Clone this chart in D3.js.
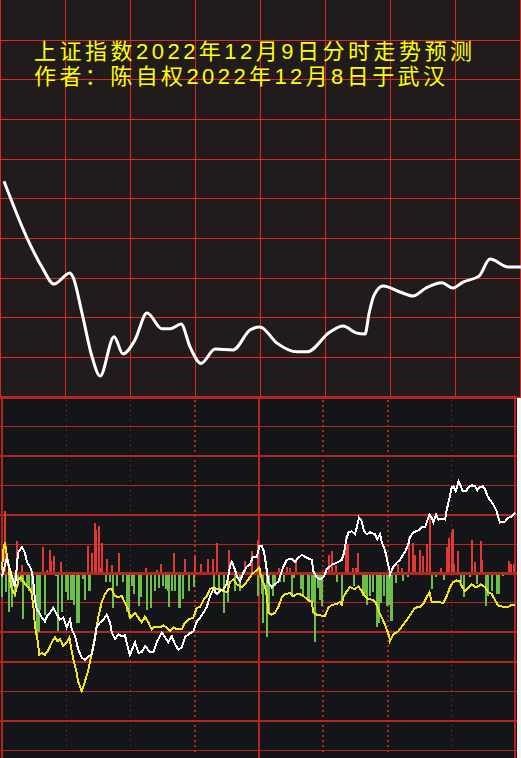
<!DOCTYPE html>
<html>
<head>
<meta charset="utf-8">
<script src="https://cdn.jsdelivr.net/npm/d3@7"></script>
<style>
  body { margin: 0; background: #141518; }
  svg { display: block; }
</style>
</head>
<body>
<div class="container"></div>
<script>
//Width and height
var w = 521;
var h = 758;

var titleLines = ["上证指数2022年12月9日分时走势预测", "作者：陈自权2022年12月8日于武汉"];

// top panel: predicted index curve (minute, level in grid units)
var topMinutes = [0, 10.7, 17.6, 23.2, 30.6, 32, 36.2, 40.9, 44.6, 51.1, 55.2, 60.8, 66.4, 73.4, 77.1, 82.2, 86.4, 91.5, 98, 106.3,
    114.2, 118.8, 126.7, 136, 140.7, 151.3, 157.4, 163.4, 167.6, 169.5, 171.8, 176, 183.8, 189.9, 195.9, 203.3, 208.4, 213.1, 220.5, 225.6, 234, 240];
var topValues = [5.43, 4.00, 3.27, 2.84, 3.12, 3.02, 2.11, 1.00, 0.52, 1.51, 1.08, 1.43, 2.11, 1.71, 1.71, 1.83, 1.25, 0.84, 1.20, 1.18,
    1.68, 1.76, 1.35, 1.13, 1.13, 1.63, 1.78, 1.61, 1.58, 2.11, 2.56, 2.79, 2.64, 2.54, 2.74, 2.87, 2.74, 2.89, 3.04, 3.47, 3.27, 3.27];

// bottom panel: flow bars [t, value]
var redBars = [[1.4,64],[7.7,33],[9.9,9],[20.7,27],[22.4,4],[24,24],[24.5,13],[26.2,18],[29.5,12],[43.2,28],[45,21],[46.5,51],[47.2,44],
    [48.7,48],[49.4,6],[50.2,31],[52.7,15],[54.9,9],[58.7,21],[71.9,6],[77.4,4],[79.7,10],[85.9,21],[91.5,15],[96.7,19],[99.5,10],
    [102.9,15],[105.4,15],[107.7,31],[113.7,24],[121.5,13],[125,23],[127.9,34],[138.5,6],[142.4,7],[144.2,6],[147,15],[162,6],
    [163.5,19],[164.9,23],[166.9,9],[169,2],[171.8,38],[173.2,30],[175.4,6],[177,6],[178.2,21],[198.2,10],[199.9,6],[203.7,37],
    [205.4,31],[206.5,19],[209,24],[210.7,18],[212.4,30],[213.9,58],[219.4,6],[222.4,27],[223.4,36],[224.9,42],[225.5,45],[226.2,10],
    [228.2,23],[234.9,34],[236.5,12],[239.4,33],[240.2,14],[253.4,13],[254.4,10],[255.9,10]];
var greenBars = [[0,-24],[2.2,-19],[3.7,-39],[5.2,-34],[6.5,-24],[8.2,-13],[9.4,-9],[10.7,-46],[12.4,-13],[13.4,-18],[14.9,-24],
    [15.7,-16],[17.4,-67],[18.4,-60],[19,-37],[21.5,-42],[27,-3],[27.9,-59],[30.2,-39],[31.9,-19],[33.2,-27],[34.7,-27],[35.7,-27],
    [36,-32],[37.7,-50],[38.7,-50],[40.7,-6],[41.7,-27],[43.7,-18],[44.2,-18],[52,-9],[54,-9],[55.7,-35],[57.4,-13],[60.4,-9],
    [62.7,-39],[63.7,-44],[64.9,-13],[66.2,-21],[68.5,-33],[69.5,-24],[72.7,-37],[74.7,-35],[76.7,-18],[78.4,-15],[80.4,-13],
    [82,-16],[82.9,-18],[83.7,-34],[85,-18],[86.5,-18],[88.7,-35],[89.2,-35],[90.7,-26],[93.5,-18],[96,-14],[106.2,-14],[108.7,-19],
    [111.2,-40],[113,-29],[116.5,-18],[119,-18],[128.2,-23],[129.9,-21],[130.7,-50],[132.3,-65],[133.3,-40],[135.4,-23],[136.5,-13],
    [139,-9],[141.2,-9],[144.9,-24],[146.2,-5],[149.4,-16],[150.7,-23],[152.9,-27],[153.7,-29],[154.9,-29],[155.7,-29],[156.5,-70],
    [158.2,-15],[159,-27],[160.2,-33],[167.4,-9],[169.9,-31],[176,-13],[180.4,-23],[181.5,-21],[182.7,-32],[184,-23],[185.7,-19],
    [187.4,-55],[188.4,-50],[189.7,-30],[191,-23],[192.7,-33],[193.4,-32],[194.4,-48],[194.9,-48],[197,-10],[200.7,-8],[202.9,-4],
    [215.2,-16],[217,-4],[221,-7],[229.4,-9],[231,-24],[233.9,-4],[237.4,-11],[242,-33],[243,-23],[245,-18],[247.7,-21],[248.5,-21],
    [250.4,-3]];

// bottom panel: white and yellow lines [t, value]
var whiteLine = [[0,-3],[2.4,16],[4,4],[6.5,-14],[8,21],[9.9,27],[11.5,21],[12.4,12],[14,7],[14.9,2],[15.7,-9],[16.5,-27],[17.4,-37],
    [18.7,-40],[19.9,-45],[21.5,-49],[22.4,-44],[24,-40],[25.7,-35],[27.4,-42],[29,-47],[30.7,-45],[32.4,-55],[34,-47],[34.9,-57],
    [36.5,-64],[38.2,-78],[39.9,-86],[41.5,-88],[43.2,-85],[44.9,-82],[46.2,-70],[47.4,-54],[49,-50],[50.7,-47],[52.4,-42],[54,-50],
    [54.9,-60],[56.5,-67],[58.2,-62],[59.9,-64],[61.5,-63],[63.2,-78],[64,-83],[66.5,-70],[68.2,-81],[69.9,-80],[71.5,-74],[74,-80],
    [75.7,-80],[77.4,-70],[79.9,-60],[81.5,-65],[83.2,-70],[84.9,-64],[86.5,-72],[88.2,-78],[89.9,-75],[91.5,-65],[93.2,-62],
    [95.7,-59],[97.4,-49],[99,-45],[100.7,-40],[102.4,-34],[104,-23],[105.7,-16],[107.4,-21],[109,-18],[110.7,-16],[112.4,-11],
    [114,7],[114.9,12],[116.5,4],[117.4,-3],[119,-8],[120.7,1],[122.4,7],[124,9],[125.4,17],[127.4,17],[128.7,28],[129.9,28],[131,22],
    [132,9],[133.2,-9],[134.9,-14],[136.5,-11],[138.2,-8],[140.7,7],[142.4,14],[144.9,15],[146.5,12],[148.2,16],[149.9,19],[152.4,16],
    [154.9,14],[155.7,2],[157.4,-4],[159,-6],[160.7,-4],[162.4,4],[164.9,9],[167.4,11],[169.9,14],[171,21],[172,33],[173.2,42],
    [174.9,43],[176.5,40],[177.4,47],[178.5,57],[179.9,53],[181,43],[182.4,40],[184,42],[186.5,40],[187.7,35],[189,40],[189.9,32],
    [191.5,24],[192.7,12],[193.7,4],[194,-1],[195.4,6],[197.4,11],[199,14],[199.9,17],[201.5,22],[203.2,30],[204,37],[205.7,42],
    [208.2,44],[209.9,47],[211.5,47],[212.4,52],[213.7,60],[214.9,57],[215.7,52],[217,60],[218.2,55],[219.9,56],[221.5,55],[222.4,65],
    [223.5,75],[224.9,88],[225.7,89],[226.9,84],[228.2,94],[229,91],[230.4,84],[232,84],[233.2,88],[234.9,90],[236.5,89],[237.7,85],
    [239,88],[240.4,89],[241.5,86],[242.7,79],[244,75],[245.7,70],[247.4,63],[248.2,57],[249,52],[251.5,53],[253.2,57],[254.9,58],
    [256.5,62]];
var yellowLine = [[0,4],[0.7,24],[1.5,32],[2.4,19],[3.2,9],[4,-6],[4.9,-16],[5.7,-19],[6.5,-21],[7.4,-14],[8.2,-6],[9.4,-4],[10.7,-8],
    [12.4,-13],[14,-16],[14.9,-21],[15.7,-34],[16.5,-54],[17.7,-67],[18.7,-83],[19.9,-81],[21.5,-83],[23.2,-78],[24.9,-70],[26.5,-65],
    [27.7,-69],[29,-67],[30.7,-74],[32.4,-70],[33.7,-65],[34.4,-74],[35.7,-88],[37,-98],[38.2,-111],[39.9,-120],[41.5,-110],[43.2,-98],
    [44.9,-81],[46.5,-64],[48.2,-44],[49.9,-29],[51.5,-21],[53.2,-16],[54.9,-16],[56.5,-23],[58.2,-24],[59.9,-23],[62.4,-34],[63.7,-40],
    [64,-45],[66.5,-40],[68.2,-45],[69.9,-50],[71.5,-44],[73.2,-50],[74.9,-57],[76.5,-54],[79,-55],[80.7,-53],[82.4,-55],[84,-59],
    [85.7,-55],[87.4,-57],[89.9,-57],[91.5,-50],[93.2,-47],[95.7,-45],[97.4,-35],[99,-34],[100.7,-27],[102.4,-23],[104,-16],[105.7,-14],
    [107.4,-16],[109,-16],[110.7,-18],[112.7,-19],[114,-9],[115.7,-6],[117.4,-11],[119.9,-14],[121.5,-11],[123.2,-6],[124.9,-1],
    [126.5,2],[128.7,6],[129,1],[129.9,-6],[131.5,-13],[132.4,-23],[133.2,-40],[134.9,-42],[136.5,-40],[138.2,-34],[139.9,-24],
    [141.5,-21],[144,-20],[145.7,-23],[147.4,-21],[149,-21],[150.7,-23],[152.4,-26],[154.9,-29],[155.7,-40],[157.4,-42],[159.9,-43],
    [161.5,-43],[163.2,-35],[164.9,-32],[167.4,-31],[169,-29],[169.9,-32],[170.7,-24],[172.4,-18],[174,-14],[176.5,-16],[178.2,-13],
    [179.9,-18],[181.5,-23],[183.2,-26],[185.7,-27],[187,-30],[188.7,-40],[189.9,-45],[191.5,-52],[192.7,-59],[193.7,-65],[194,-69],
    [195.7,-62],[198.2,-59],[199.9,-54],[201.5,-50],[203.2,-45],[204.9,-40],[206.5,-35],[209,-34],[210.7,-31],[212.4,-24],[213.7,-19],
    [214.9,-29],[217.4,-29],[220.7,-30],[222.4,-23],[224,-14],[225.4,-9],[227.4,-7],[229,-8],[229.9,-13],[231.5,-18],[233.2,-14],
    [234.9,-11],[236.5,-14],[238.2,-13],[239.4,-11],[241.5,-14],[243.2,-19],[244.9,-21],[246.5,-27],[248.2,-33],[250.7,-34],
    [253.2,-34],[254.9,-32],[256.5,-32]];

var topX = d3.scaleLinear().domain([0, 240]).range([4, 521]);
var topY = d3.scaleLinear().domain([0, 10]).range([396.7, 0]);
var botX = d3.scaleLinear().domain([0, 257]).range([2, 516]);
var botY = d3.scaleLinear().domain([-180, 180]).range([750, 397]);

//Create SVG element
var svg = d3.select(".container")
    .append("svg")
    .attr("width", w)
    .attr("height", h);

// backgrounds
svg.append("rect").attr("width", w).attr("height", 397).attr("fill", "#211c1b");
svg.append("rect").attr("y", 397).attr("width", w).attr("height", h - 397).attr("fill", "#141518");
svg.append("rect").attr("x", 517).attr("y", 398).attr("width", 4).attr("height", h - 398).attr("fill", "#f4f4f4");

// top grid (1px rects so they stay solid red)
var topGrid = svg.append("g").attr("shape-rendering", "crispEdges").attr("fill", "#d82a22");
topGrid.selectAll(".vline")
    .data(d3.range(0, 9))
    .enter().append("rect")
    .attr("class", "vline")
    .attr("x", function(i) { return Math.min(i * 65, 520); })
    .attr("width", 1)
    .attr("y", 0).attr("height", 397);
topGrid.selectAll(".hline")
    .data(d3.range(0, 10))
    .enter().append("rect")
    .attr("class", "hline")
    .attr("x", 0).attr("width", w)
    .attr("y", function(k) { return Math.round(topY(k)); })
    .attr("height", 1);

// title, one text block with a line per tspan
svg.append("text")
    .attr("class", "title")
    .attr("fill", "#ffff00")
    .attr("font-family", "'Liberation Sans', 'Noto Sans CJK SC', sans-serif")
    .attr("font-size", "22px")
  .selectAll("tspan")
    .data(titleLines)
    .enter().append("tspan")
    .attr("x", 34)
    .attr("y", function(d, i) { return 59 + i * 25; })
    .attr("textLength", function(d, i) { return i == 0 ? 438 : 411; })
    .attr("lengthAdjust", "spacing")
    .text(function(d) { return d; });

// top curve
var topLine = d3.line()
    .x(function(d) { return topX(d[0]); })
    .y(function(d) { return topY(d[1]); })
    .curve(d3.curveMonotoneX);
svg.append("path")
    .datum(d3.zip(topMinutes, topValues))
    .attr("fill", "none")
    .attr("stroke", "#ffffff")
    .attr("stroke-width", 3)
    .attr("stroke-linejoin", "round")
    .attr("d", topLine);

// bottom grid
var botGrid = svg.append("g").attr("shape-rendering", "crispEdges");
var hWidths = [3, 1.5, 2, 1, 2, 1, 3, 1, 2, 2, 1, 2, 1];
botGrid.selectAll(".bh")
    .data(d3.range(180, -181, -30))
    .enter().append("line")
    .attr("class", "bh")
    .attr("x1", 0).attr("x2", 517)
    .attr("y1", function(v) { return botY(v); })
    .attr("y2", function(v) { return botY(v); })
    .attr("stroke", "#b3271f")
    .attr("stroke-width", function(v, i) { return hWidths[i]; });

var vStyles = ["solid", "thin", "thin", "thick", "solid", "thick", "thick", "thin", "solid"];
botGrid.selectAll(".bv")
    .data(d3.range(0, 9))
    .enter().append("line")
    .attr("class", "bv")
    .attr("x1", function(i) { return botX(i * 257 / 8) - (i == 8 ? 1 : 0); })
    .attr("x2", function(i) { return botX(i * 257 / 8) - (i == 8 ? 1 : 0); })
    .attr("y1", function(i) { return vStyles[i] == "solid" ? 397 : 400; })
    .attr("y2", function(i) { return vStyles[i] == "solid" ? h : 752; })
    .attr("stroke", "#b3271f")
    .attr("stroke-width", function(i) { return vStyles[i] == "thin" ? 1 : 2; })
    .attr("stroke-dasharray", function(i) {
        if (vStyles[i] == "thin") return "1,4";
        if (vStyles[i] == "thick") return "2,3";
        return null;
    });

// flow bars
var bars = svg.append("g").attr("shape-rendering", "crispEdges");
bars.selectAll(".red")
    .data(redBars)
    .enter().append("rect")
    .attr("class", "red")
    .attr("x", function(d) { return botX(d[0]) - 1; })
    .attr("width", 2)
    .attr("y", function(d) { return botY(d[1]); })
    .attr("height", function(d) { return botY(0) - botY(d[1]); })
    .attr("fill", "#e23a33");
bars.selectAll(".green")
    .data(greenBars)
    .enter().append("rect")
    .attr("class", "green")
    .attr("x", function(d) { return botX(d[0]) - 1; })
    .attr("width", 2)
    .attr("y", botY(0))
    .attr("height", function(d) { return botY(d[1]) - botY(0); })
    .attr("fill", "#6bbf4a");

// zero line over bars
svg.append("line")
    .attr("x1", 0).attr("x2", 517)
    .attr("y1", botY(0)).attr("y2", botY(0))
    .attr("stroke", "#b3271f")
    .attr("stroke-width", 3)
    .attr("shape-rendering", "crispEdges");

var botLine = d3.line()
    .x(function(d) { return botX(d[0]); })
    .y(function(d) { return botY(d[1]); });

svg.append("path")
    .datum(yellowLine)
    .attr("fill", "none")
    .attr("stroke", "#f2e61e")
    .attr("stroke-width", 2)
    .attr("shape-rendering", "crispEdges")
    .attr("d", botLine);

svg.append("path")
    .datum(whiteLine)
    .attr("fill", "none")
    .attr("stroke", "#ffffff")
    .attr("stroke-width", 2)
    .attr("shape-rendering", "crispEdges")
    .attr("d", botLine);
</script>
</body>
</html>
